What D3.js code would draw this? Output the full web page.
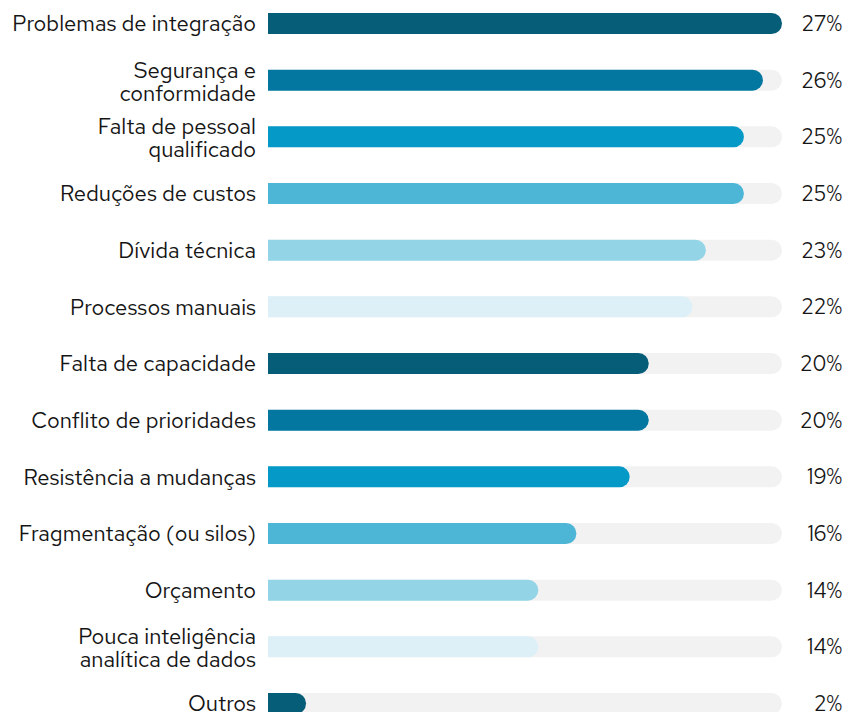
<!DOCTYPE html>
<html>
<head>
<meta charset="utf-8">
<script src="https://cdn.jsdelivr.net/npm/d3@7"></script>
<style>
  body { margin: 0; background: #fff; }
  svg text { font-family: "Red Hat Text", "Open Sans", "Noto Sans", sans-serif; fill: #151515; }
</style>
</head>
<body>
<div class="bar-chart"></div>
<script>
// categories (multi-line labels split by "|")
var categories = [
  "Problemas de integração",
  "Segurança e|conformidade",
  "Falta de pessoal|qualificado",
  "Reduções de custos",
  "Dívida técnica",
  "Processos manuais",
  "Falta de capacidade",
  "Conflito de prioridades",
  "Resistência a mudanças",
  "Fragmentação (ou silos)",
  "Orçamento",
  "Pouca inteligência|analítica de dados",
  "Outros"
];
var values = [27, 26, 25, 25, 23, 22.3, 20, 20, 19, 16.2, 14.2, 14.2, 2];
var valueLabels = ["27%", "26%", "25%", "25%", "23%", "22%", "20%", "20%", "19%", "16%", "14%", "14%", "2%"];
var palette = ["#065d78", "#0477a0", "#0599c7", "#4db6d7", "#93d4e6", "#ddf0f7"];

var width = 846;
var height = 712;
var left = 268;
var right = 782;

var svg = d3.select(".bar-chart")
  .append("svg")
  .attr("width", width)
  .attr("height", height);

var xScale = d3.scaleLinear()
  .domain([0, 27])
  .range([0, right - left]);

var yScale = d3.scaleBand()
  .domain(categories)
  .range([13, 714])
  .paddingInner(0.63)
  .paddingOuter(0);

var bh = yScale.bandwidth();
var r = bh / 2;

// path with square left end and rounded right end
function pill(w) {
  if (w < r) w = r;
  return "M0,0H" + (w - r) + "A" + r + "," + r + " 0 0 1 " + (w - r) + "," + bh + "H0Z";
}

var row = svg.selectAll(".row")
  .data(categories).enter()
  .append("g")
  .attr("class", "row")
  .attr("transform", function (d) { return "translate(" + left + "," + yScale(d) + ")"; });

// background track
row.append("path")
  .attr("d", pill(xScale(27)))
  .style("fill", "#f2f2f2");

// value bar
row.append("path")
  .attr("d", function (d, i) { return pill(xScale(values[i])); })
  .style("fill", function (d, i) { return palette[i % palette.length]; });

// category labels
row.append("text")
  .attr("text-anchor", "end")
  .style("font-size", "22px")
  .each(function (d) {
    var lines = d.split("|");
    var t = d3.select(this);
    var lh = 23;
    var off = lines.length > 1 ? 1.3 : 0;
    lines.forEach(function (line, k) {
      t.append("tspan")
        .attr("x", -12)
        .attr("y", bh / 2 + off + (k - (lines.length - 1) / 2) * lh)
        .attr("dy", "0.35em")
        .text(line);
    });
  });

// value labels
row.append("text")
  .attr("text-anchor", "end")
  .attr("x", 842 - left)
  .attr("y", bh / 2)
  .attr("dy", "0.35em")
  .style("font-size", "21px")
  .text(function (d, i) { return valueLabels[i]; });
</script>
</body>
</html>
